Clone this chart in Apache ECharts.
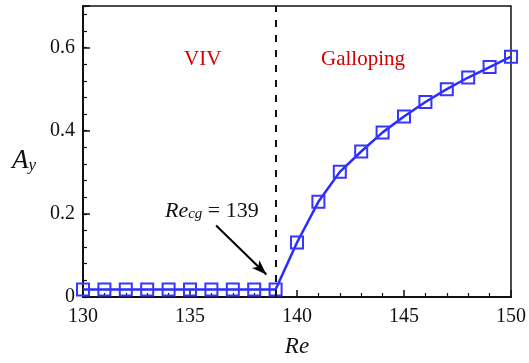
<!DOCTYPE html>
<html>
<head>
<meta charset="utf-8">
<script src="https://cdn.jsdelivr.net/npm/echarts@6/dist/echarts.min.js"></script>
<style>
  html, body { margin: 0; padding: 0; background: #fff; }
  #chart { width: 529px; height: 363px; }
</style>
</head>
<body>
<div id="chart"></div>
<script>
// Reynolds numbers and transverse amplitude A_y
const reValues = [130, 131, 132, 133, 134, 135, 136, 137, 138, 139, 140, 141, 142, 143, 144, 145, 146, 147, 148, 149, 150];
const ayValues = [0.018, 0.018, 0.018, 0.018, 0.018, 0.018, 0.018, 0.018, 0.018, 0.018, 0.131, 0.229, 0.301, 0.350, 0.396, 0.434, 0.469, 0.500, 0.528, 0.553, 0.578];

// Critical Reynolds number where galloping sets in
const reCritical = 139;

// Axis ranges and tick steps
const xRange = [130, 150];
const xStep = 5;
const yRange = [0, 0.7];
const yStep = 0.2;
const yMinorStep = 0.04;

const serif = '"Liberation Serif", "DejaVu Serif", serif';
const blue = '#2b2bff';

const chart = echarts.init(document.getElementById('chart'));

const option = {
  animation: false,
  backgroundColor: '#fff',
  grid: {
    left: 83, right: 16, top: 6, bottom: 62,
    show: true, borderColor: '#111', borderWidth: 1.5,
    backgroundColor: 'transparent'
  },
  xAxis: {
    type: 'value',
    min: xRange[0], max: xRange[1], interval: xStep,
    axisLine: { show: true, lineStyle: { color: '#111', width: 2 } },
    axisTick: { show: true, inside: true, length: 7, lineStyle: { color: '#111', width: 1.5 } },
    minorTick: { show: true, splitNumber: 5, length: 4, lineStyle: { color: '#111', width: 1.2 } },
    splitLine: { show: false },
    axisLabel: { color: '#111', fontFamily: serif, fontSize: 20, margin: 10 },
    name: 'Re',
    nameLocation: 'middle',
    nameGap: 38,
    nameTextStyle: { color: '#111', fontFamily: serif, fontSize: 23, fontStyle: 'italic' }
  },
  yAxis: [
    {
      type: 'value',
      min: yRange[0], max: yRange[1], interval: yStep,
      axisLine: { show: true, lineStyle: { color: '#111', width: 2 } },
      axisTick: { show: true, inside: true, length: 7, lineStyle: { color: '#111', width: 1.5 } },
      splitLine: { show: false },
      axisLabel: {
        color: '#111', fontFamily: serif, fontSize: 20, margin: 8,
        formatter: function (v) {
          if (v === 0) return '0';
          if (Math.abs(v - yRange[1]) < 1e-9) return '';
          return v.toFixed(1);
        }
      }
    },
    {
      // minor ticks of the amplitude axis
      type: 'value',
      position: 'left',
      min: yRange[0], max: yRange[1], interval: yMinorStep,
      axisLine: { show: false },
      axisTick: { show: true, inside: true, length: 4, lineStyle: { color: '#111', width: 1.2 } },
      splitLine: { show: false },
      axisLabel: { show: false }
    }
  ],
  series: [
    {
      type: 'line',
      yAxisIndex: 0,
      data: reValues.map((r, i) => [r, ayValues[i]]),
      symbol: 'rect',
      symbolSize: 12,
      clip: false,
      lineStyle: { color: blue, width: 2.5 },
      itemStyle: { color: 'rgba(0,0,0,0)', borderColor: '#3636ff', borderWidth: 2 },
      z: 3,
      markLine: {
        silent: true,
        symbol: ['none', 'none'],
        label: { show: false },
        lineStyle: { color: '#111', type: [7, 8], width: 2 },
        data: [{ xAxis: reCritical }]
      }
    },
    {
      // annotation arrow pointing at the onset of galloping
      type: 'line',
      yAxisIndex: 0,
      data: [],
      markLine: {
        silent: true,
        symbol: ['none', 'arrow'],
        symbolSize: [8, 15],
        label: { show: false },
        lineStyle: { color: '#000', type: 'solid', width: 2 },
        data: [[{ coord: [136.22, 0.172] }, { coord: [138.57, 0.054] }]]
      }
    }
  ],
  graphic: [
    {
      type: 'text', left: 184, top: 49,
      style: { text: 'VIV', fill: '#d40000', font: '21px ' + serif }
    },
    {
      type: 'text', left: 321, top: 49,
      style: { text: 'Galloping', fill: '#d40000', font: '21px ' + serif }
    },
    {
      type: 'text', left: 165, top: 200,
      style: {
        text: '{re|Re}{sub|cg}{eq| = 139}',
        fill: '#111',
        rich: {
          re: { fontFamily: serif, fontSize: 22, fontStyle: 'italic', fill: '#111', verticalAlign: 'bottom' },
          sub: { fontFamily: serif, fontSize: 15, fontStyle: 'italic', fill: '#111', padding: [8, 0, 0, 0], verticalAlign: 'bottom' },
          eq: { fontFamily: serif, fontSize: 22, fill: '#111', verticalAlign: 'bottom' }
        }
      }
    },
    {
      type: 'text', left: 12, top: 147,
      style: {
        text: '{a|A}{s|y}',
        rich: {
          a: { fontFamily: serif, fontSize: 27, fontStyle: 'italic', fill: '#111', verticalAlign: 'bottom' },
          s: { fontFamily: serif, fontSize: 17, fontStyle: 'italic', fill: '#111', padding: [9, 0, 0, 0], verticalAlign: 'bottom' }
        }
      }
    }
  ]
};

chart.setOption(option);
</script>
</body>
</html>
